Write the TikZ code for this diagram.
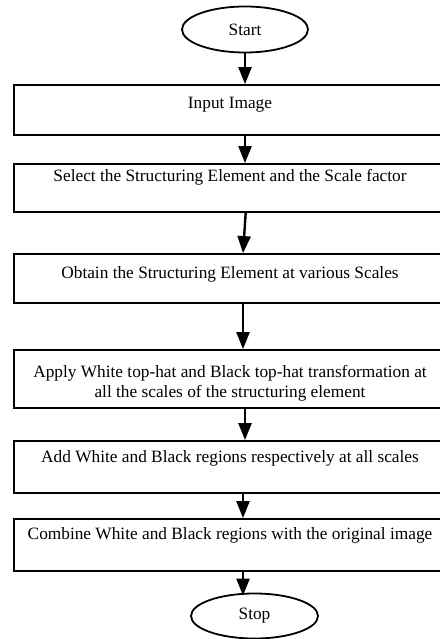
\documentclass[tikz,border=0pt]{standalone}
\usepackage{fontspec}
\setmainfont{Liberation Serif}
\usetikzlibrary{shapes.geometric,arrows.meta}
\begin{document}
\begin{tikzpicture}[x=1pt,y=-1pt,
  box/.style={draw,line width=1.8pt,rectangle,minimum width=432pt,inner sep=0pt},
  term/.style={draw,line width=1.8pt,ellipse,minimum width=126pt,minimum height=46pt,inner sep=0pt,font=\fontsize{17.3}{20}\selectfont},
  lbl/.style={font=\fontsize{17.3}{20}\selectfont,align=center,inner sep=0pt},
  arr/.style={line width=2.4pt,-{Triangle[width=13pt,length=17pt]}}]
\useasboundingbox (0,0) rectangle (439,639);
\fill[white] (0,0) rectangle (439,639);

\node[term] (start) at (245,29.5) {Start};
\node[box,minimum height=50pt] (b1) at (230,110) {};
\node[box,minimum height=48pt] (b2) at (230,188) {};
\node[box,minimum height=49pt] (b3) at (230,278.5) {};
\node[box,minimum height=58pt] (b4) at (230,379) {};
\node[box,minimum height=52pt] (b5) at (230,467) {};
\node[box,minimum height=52pt] (b6) at (230,545) {};
\node[term,minimum width=127pt,minimum height=45pt] (stop) at (254.5,616) {Stop};

\node[lbl] (l1) at (230,105) {Input Image};
\node[lbl] (l2) at (230,177) {Select the Structuring Element and the Scale factor};
\node[lbl] (l3) at (230,274) {Obtain the Structuring Element at various Scales};
\node[lbl] (l4) at (230,383) {Apply White top-hat and Black top-hat transformation at\\all the scales of the structuring element};
\node[lbl] (l5) at (230,458) {Add White and Black regions respectively at all scales};
\node[lbl] (l6) at (230,535) {Combine White and Black regions with the original image};

\coordinate (xa) at (245,0);
\coordinate (xb) at (243,0);
\coordinate (xc) at (245.7,0);

\draw[arr] (start.south -| xa) -- (b1.north -| xa);
\draw[arr] (b1.south -| xa) -- (b2.north -| xa);
\draw[arr] (b2.south -| xc) -- (b3.north -| xb);
\draw[arr] (b3.south -| xb) -- (b4.north -| xb);
\draw[arr] (b4.south -| xa) -- (b5.north -| xa);
\draw[arr] (b5.south -| xb) -- (b6.north -| xb);
\draw[arr] (b6.south -| xb) -- ([yshift=-3pt]stop.north -| xb);
\end{tikzpicture}
\end{document}
